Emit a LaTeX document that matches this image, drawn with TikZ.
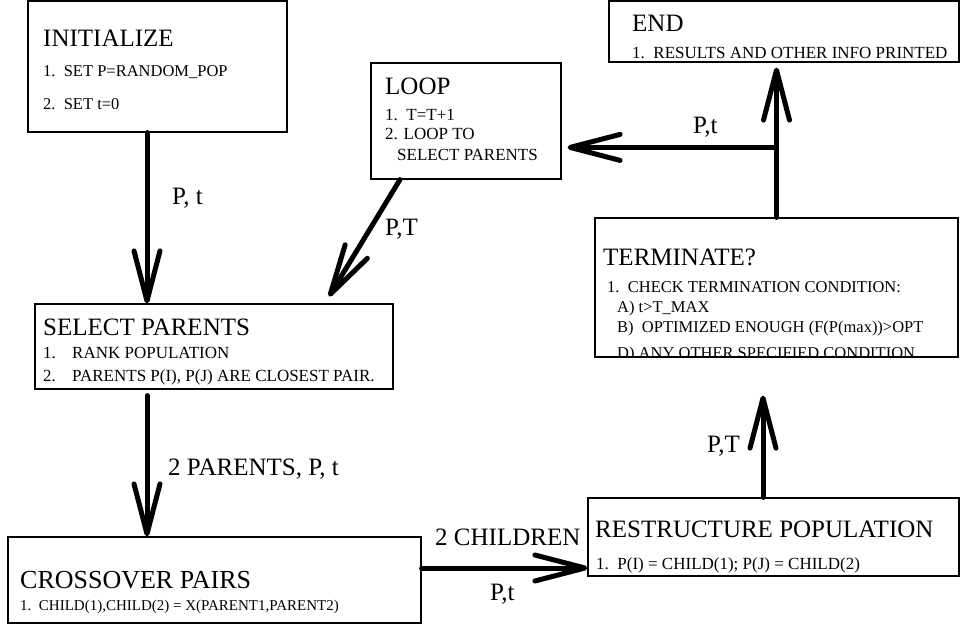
\documentclass[tikz,border=0pt]{standalone}
\usepackage{fontspec}
\setmainfont{Liberation Serif}
\usetikzlibrary{arrows.meta, positioning, calc}
\tikzset{
  box/.style={draw, line width=1.2pt, inner sep=0pt}, % the frames of the steps
  title/.style={anchor=base west, inner sep=0pt, font=\fontsize{25}{30}\selectfont},
  item/.style={anchor=base west, inner sep=0pt, font=\fontsize{17}{20}\selectfont},
  lbl/.style={anchor=base west, inner sep=0pt, font=\fontsize{25}{30}\selectfont},
  flow/.style={line width=5pt, line cap=round,
    -{Straight Barb[length=50pt, width=26pt, round]}}, % thick open arrows
}

\begin{document}
\begin{tikzpicture}[x=1pt, y=-1pt]
		\useasboundingbox (0,0) rectangle (961,626);

		% Cajas
		\node[box, minimum width=259pt, minimum height=131pt] (init) at (157.5,66.5) {};
		\node[box, minimum width=190pt, minimum height=116pt] (loop) at (466,121) {};
		\node[box, minimum width=350pt, minimum height=61pt] (endb) at (784,31.5) {};
		\node[box, minimum width=363pt, minimum height=139pt] (term) at (776.5,287.5) {};
		\node[box, minimum width=358pt, minimum height=85pt] (select) at (214,346.5) {};
		\node[box, minimum width=413pt, minimum height=86pt] (cross) at (214.5,580) {};
		\node[box, minimum width=371pt, minimum height=78pt] (restr) at (773.5,537) {};

		% Textos
		\node[title] (initT) at (43,47) {INITIALIZE};
		\node[item, font=\fontsize{16.5}{20}\selectfont] (init1) at (43,77) {1.~~SET P=RANDOM\_POP};
		\node[item, font=\fontsize{16.5}{20}\selectfont] (init2) at (43,110) {2.~~SET t=0};

		\node[title] (loopT) at (385,94) {LOOP};
		\node[item] (loop1) at (385,120) {1.~~T=T+1};
		\node[item] (loop2) at (385,139) {2. LOOP TO};
		\node[item] (loop3) at (397,160) {SELECT PARENTS};

		\node[title] (endT) at (632,32) {END};
		\node[item] (end1) at (632,59) {1.~~RESULTS AND OTHER INFO PRINTED};

		\begin{scope}
			\clip (term.north west) rectangle (term.south east);
			\node[title] (termT) at (603,265) {TERMINATE?};
			\node[item, font=\fontsize{16.5}{20}\selectfont] (term1) at (607,292) {1.~~CHECK TERMINATION CONDITION:};
			\node[item, font=\fontsize{16.5}{20}\selectfont] (term2) at (617,312) {A) t>T\_MAX};
			\node[item, font=\fontsize{16.5}{20}\selectfont] (term3) at (617,332) {B)~~OPTIMIZED ENOUGH (F(P(max))>OPT};
			\node[item, font=\fontsize{16.5}{20}\selectfont] (term4) at (617,358.5) {D) ANY OTHER SPECIFIED CONDITION};
		\end{scope}

		\node[title] (selectT) at (43,335) {SELECT PARENTS};
		\node[item] (select1) at (43,358) {\makebox[29pt][l]{1.}RANK POPULATION};
		\node[item] (select2) at (43,381) {\makebox[29pt][l]{2.}PARENTS P(I), P(J) ARE CLOSEST PAIR.};

		\node[title, font=\fontsize{26}{30}\selectfont] (crossT) at (20,588) {CROSSOVER PAIRS};
		\node[item, font=\fontsize{15}{18}\selectfont] (cross1) at (20,610) {1.~~CHILD(1),CHILD(2) = X(PARENT1,PARENT2)};

		\node[title] (restrT) at (595,537) {RESTRUCTURE POPULATION};
		\node[item] (restr1) at (596,569) {1.~~P(I) = CHILD(1); P(J) = CHILD(2)};

		% Flechas
		\draw[flow] ([xshift=-10.5pt]init.south) -- ([xshift=-67pt]select.north);
		\draw[flow] ([xshift=-67pt, yshift=-6pt]select.south) -- ([xshift=-67.5pt]cross.north);
		\draw[flow] ([xshift=-66pt]loop.south) -- ([xshift=115pt, yshift=7pt]select.north);
		\draw[flow] ([yshift=12pt]cross.east) -- ([yshift=-31pt]restr.west);
		\draw[flow] ([xshift=-10.5pt]restr.north) -- ([xshift=-13.5pt, yshift=-38pt]term.south);
		\coordinate (jn) at ([yshift=70pt]term.north);
		\coordinate (endin) at (term.north |- endb.south);
		\coordinate (loopin) at (jn -| loop.east);
		\draw[flow] (term.north) -- ([yshift=-5pt]endin);
		\draw[flow] (jn) -- ([xshift=6pt]loopin);

		% Etiquetas
		\node[lbl] (lblA) at (172,204) {P, t};
		\node[lbl] (lblB) at (385,235) {P,T};
		\node[lbl] (lblC) at (168,475) {2 PARENTS, P, t};
		\node[lbl] (lblD) at (435,545) {2 CHILDREN};
		\node[lbl] (lblE) at (490,600) {P,t};
		\node[lbl] (lblF) at (707,452) {P,T};
		\node[lbl] (lblG) at (693,133) {P,t};
\end{tikzpicture}
\end{document}
